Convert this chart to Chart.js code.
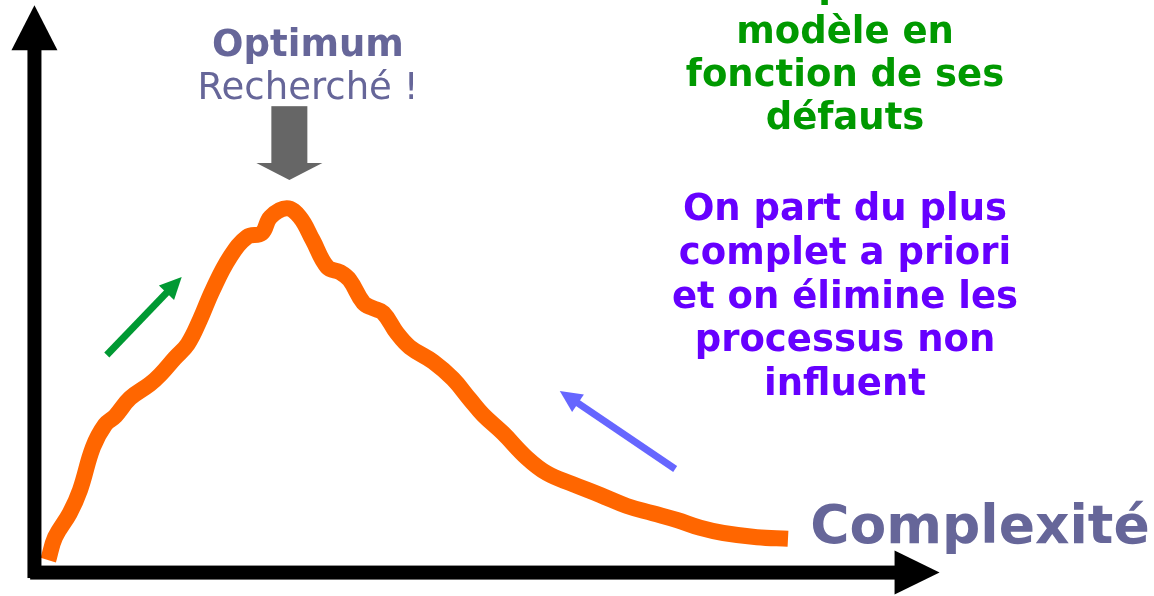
<!DOCTYPE html>
<html>
<head>
<meta charset="utf-8">
<title>Optimum recherché</title>
<script src="https://cdn.jsdelivr.net/npm/chart.js@4/dist/chart.umd.min.js"></script>
<style>
  html, body { margin: 0; padding: 0; background: #fff; }
  #wrap { width: 1154px; height: 596px; }
</style>
</head>
<body>
<div id="wrap"><canvas id="chart" width="1154" height="596"></canvas></div>
<script>
'use strict';

// Curve (complexity -> quality, arbitrary units)
const complexity = [1.6, 2.4, 4.1, 5.3, 6.8, 8.2, 9.4, 11.1, 13.4, 14.6, 16.3, 17.8, 19.2, 20.7,
    22.7, 24.7, 26.4, 27.4, 29.3, 30.8, 32.3, 34.0, 35.5, 36.6, 38.2, 39.3, 40.5, 42.1, 43.6,
    46.3, 48.6, 50.6, 52.1, 54.4, 57.2, 59.5, 62.5, 65.7, 68.8, 71.8, 74.6, 77.3, 80.0, 83.9, 87.5];
const quality = [2.4, 6.8, 11.4, 15.9, 24.1, 28.4, 30.1, 33.5, 36.2, 38.0, 41.2, 43.9, 48.5, 54.3,
    60.6, 64.5, 65.2, 68.3, 70.0, 68.3, 63.9, 58.7, 57.7, 56.2, 51.8, 50.8, 49.9, 46.0, 43.3,
    40.5, 37.2, 33.2, 30.3, 26.8, 22.0, 19.1, 17.0, 14.9, 12.8, 11.4, 10.1, 8.6, 7.6, 6.8, 6.5];

// Direction arrows: [tailX, tailY, tipX, tipY]
const growArrow = [8.4, 41.8, 17.1, 56.8];
const pruneArrow = [74.4, 19.9, 61.0, 34.9];
const optimumArrow = [29.6, 89.6, 29.6, 75.4];

// Texts
const optimumTitle = 'Optimum';
const optimumSub = 'Recherché !';
const axisTitle = 'Complexité';
const greenLines = ['on complexifie le', 'modèle en', 'fonction de ses', 'défauts'];
const purpleLines = ['On part du plus', 'complet a priori', 'et on élimine les', 'processus non', 'influent'];

const FONT = '"DejaVu Sans", sans-serif';

function arrow(ctx, x1, y1, x2, y2, shaft, headLen, headW, color) {
    const a = Math.atan2(y2 - y1, x2 - x1);
    const len = Math.hypot(x2 - x1, y2 - y1);
    ctx.save();
    ctx.translate(x1, y1);
    ctx.rotate(a);
    ctx.fillStyle = color;
    ctx.fillRect(0, -shaft / 2, len - headLen + 1, shaft);
    ctx.beginPath();
    ctx.moveTo(len, 0);
    ctx.lineTo(len - headLen, -headW / 2);
    ctx.lineTo(len - headLen, headW / 2);
    ctx.closePath();
    ctx.fill();
    ctx.restore();
}

const decorPlugin = {
    id: 'decor',
    afterDatasetsDraw(chart) {
        const ctx = chart.ctx;
        const xs = chart.scales.x, ys = chart.scales.y;
        const px = v => xs.getPixelForValue(v);
        const py = v => ys.getPixelForValue(v);

        // axes with arrowheads
        arrow(ctx, px(0), py(-1.05), px(0), py(109.0), 14, 45, 46, '#000');
        arrow(ctx, px(-0.5), py(0), px(105.1), py(0), 14, 45, 44, '#000');

        // direction arrows
        const g = growArrow, p = pruneArrow, o = optimumArrow;
        arrow(ctx, px(g[0]), py(g[1]), px(g[2]), py(g[3]), 7, 22, 21, '#009933');
        arrow(ctx, px(p[0]), py(p[1]), px(p[2]), py(p[3]), 7, 22, 21, '#6666ff');
        arrow(ctx, px(o[0]), py(o[1]), px(o[2]), py(o[3]), 36, 17, 66, '#666666');

        // texts
        ctx.save();
        ctx.textAlign = 'center';
        ctx.textBaseline = 'alphabetic';
        ctx.fillStyle = '#666699';
        ctx.font = 'bold 37px ' + FONT;
        ctx.fillText(optimumTitle, 308, 56);
        ctx.font = '37px ' + FONT;
        ctx.fillText(optimumSub, 308, 99);
        ctx.font = 'bold 53.5px ' + FONT;
        ctx.fillText(axisTitle, 980, 543);

        ctx.font = 'bold 37px ' + FONT;
        ctx.fillStyle = '#009900';
        greenLines.forEach((t, i) => ctx.fillText(t, 845, i === 0 ? -3 : -0.5 + 43 * i));
        ctx.fillStyle = '#6600ff';
        purpleLines.forEach((t, i) => ctx.fillText(t, 845, 220 + 43.75 * i));
        ctx.restore();
    }
};

new Chart(document.getElementById('chart'), {
    type: 'line',
    data: {
        datasets: [{
            label: 'Qualité',
            data: complexity.map((c, i) => ({ x: c, y: quality[i] })),
            borderColor: '#ff6600',
            borderWidth: 16,
            borderCapStyle: 'butt',
            borderJoinStyle: 'round',
            tension: 0.4,
            pointRadius: 0,
            fill: false
        }]
    },
    options: {
        responsive: false,
        animation: false,
        layout: { padding: 0 },
        scales: {
            x: { type: 'linear', min: -4, max: 130, display: false },
            y: { type: 'linear', min: -4.5, max: 110, display: false }
        },
        plugins: {
            legend: { display: false },
            tooltip: { enabled: false }
        }
    },
    plugins: [decorPlugin]
});
</script>
</body>
</html>
